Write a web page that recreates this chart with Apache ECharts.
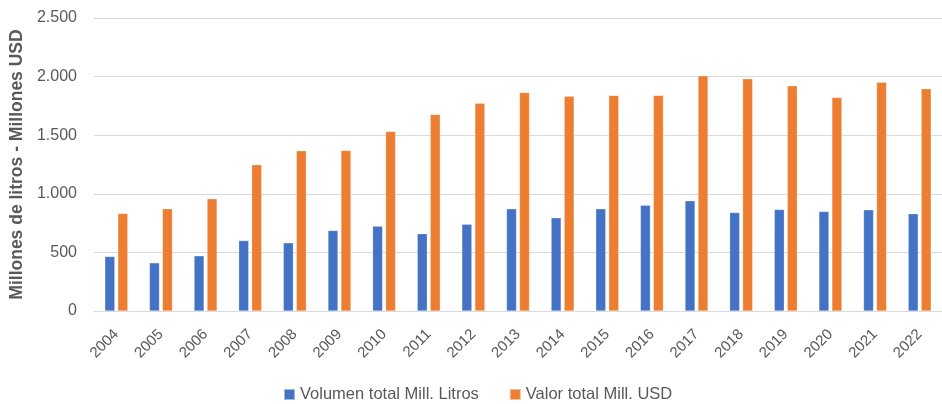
<!DOCTYPE html>
<html>
<head>
<meta charset="utf-8">
<script src="https://cdn.jsdelivr.net/npm/echarts@6/dist/echarts.min.js"></script>
<style>html,body{margin:0;padding:0;background:#fff}#c{width:942px;height:404px}</style>
</head>
<body>
<div id="c"></div>
<script>
const categories = ['2004','2005','2006','2007','2008','2009','2010','2011','2012','2013','2014','2015','2016','2017','2018','2019','2020','2021','2022'];
const volumen = [465,411,471,601,582,687,724,659,741,872,795,872,903,940,840,866,849,863,829];
const valor = [832,872,957,1247,1367,1370,1532,1677,1773,1864,1833,1839,1839,2007,1981,1921,1822,1952,1896];
const seriesNames = ['Volumen total Mill. Litros','Valor total Mill. USD'];
const yTicks = {min:0, max:2500, interval:500};

const chart = echarts.init(document.getElementById('c'));
const font = 'Liberation Sans';
chart.setOption({
  animation:false,
  textStyle:{fontFamily:font},
  grid:{left:94, width:851, top:18, bottom:93},
  legend:{
    top:381, left:278, padding:5,
    itemWidth:11, itemHeight:11, itemGap:30,
    icon:'rect',
    textStyle:{fontSize:16.5, color:'#595959', fontFamily:font},
    data:seriesNames
  },
  xAxis:{
    type:'category', data:categories,
    axisTick:{show:false},
    axisLine:{lineStyle:{color:'#d9d9d9'}},
    axisLabel:{rotate:45, fontSize:15, color:'#595959', margin:21, interval:0}
  },
  yAxis:{
    type:'value', min:yTicks.min, max:yTicks.max, interval:yTicks.interval,
    name:'Millones de litros - Millones USD',
    nameLocation:'middle', nameGap:66,
    nameTextStyle:{fontSize:17.5, fontWeight:'bold', color:'#595959', fontFamily:font},
    axisLabel:{fontSize:16, color:'#595959', margin:17,
      formatter:v=>v.toString().replace(/\B(?=(\d{3})+(?!\d))/g,'.')},
    splitLine:{lineStyle:{color:'#d9d9d9'}},
    axisLine:{show:false}, axisTick:{show:false}
  },
  series:[
    {name:seriesNames[0], type:'bar', data:volumen, barWidth:10, barGap:'30%',
     itemStyle:{color:'#4472C4', borderColor:'rgba(255,255,255,0.5)', borderWidth:0.5}},
    {name:seriesNames[1], type:'bar', data:valor, barWidth:10,
     itemStyle:{color:'#ED7D31', borderColor:'rgba(255,255,255,0.5)', borderWidth:0.5}}
  ]
});
</script>
</body>
</html>
